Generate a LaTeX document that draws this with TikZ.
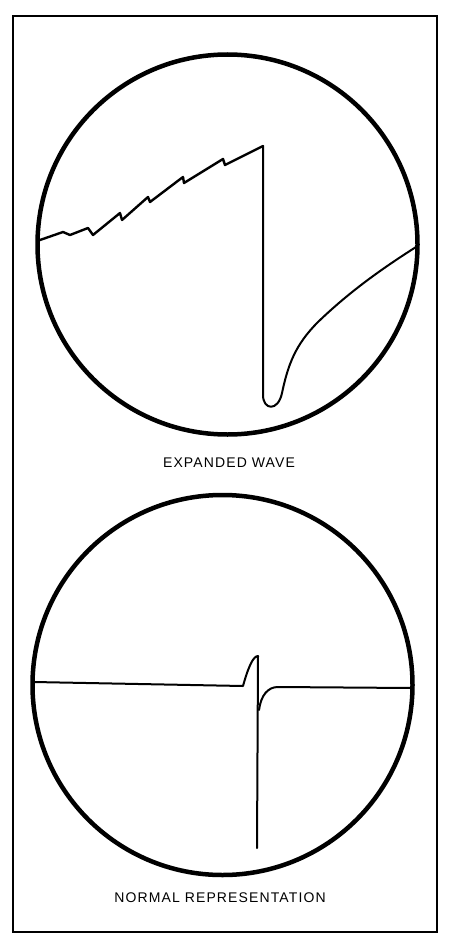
\documentclass[tikz,border=0pt]{standalone}
\usepackage{fontspec}
\newfontfamily\capfont[LetterSpace=8]{Liberation Sans}
\begin{document}
\begin{tikzpicture}[x=1pt, y=-1pt,
    screen/.style={line width=4.5pt},
    frame/.style={line width=1.8pt},
    trace/.style={line width=2pt, line join=round, line cap=round},
    caption/.style={font=\capfont\fontsize{14}{16}\selectfont, inner sep=0pt}
  ]
    \useasboundingbox (0,0) rectangle (448,936);

    % Frame
    \draw[frame] (13,16) rectangle (437,932);

    % Upper screen
    \draw[screen] (227.5,244.5) circle[radius=190pt];
    \draw[trace, line width=2.4pt] (40,240) -- (63,232) -- (70,235) -- (88,228)
      -- (93,235) -- (120,213) -- (122,220) -- (148,197) -- (150,202)
      -- (183,177) -- (184,183) -- (223,159) -- (225,165) -- (263,146);
    \draw[trace] (263,146) -- (263,395)
      .. controls (263,410) and (278,412) .. (282,393)
      .. controls (288,365) and (295,345) .. (318,322)
      .. controls (345,296) and (375,273) .. (416,247);
    \node[caption] (expcap) at (229,463) {EXPANDED WAVE};

    % Lower screen
    \draw[screen] (222.5,685) circle[radius=190pt];
    \draw[trace] (34,682) -- (243,686)
      .. controls (248,668) and (253,656) .. (258,656) -- (257,848);
    \draw[trace] (259,710) .. controls (261,695) and (268,687) .. (278,687)
      -- (411,688);
    \node[caption] (normcap) at (220,898) {NORMAL REPRESENTATION};
\end{tikzpicture}
\end{document}
